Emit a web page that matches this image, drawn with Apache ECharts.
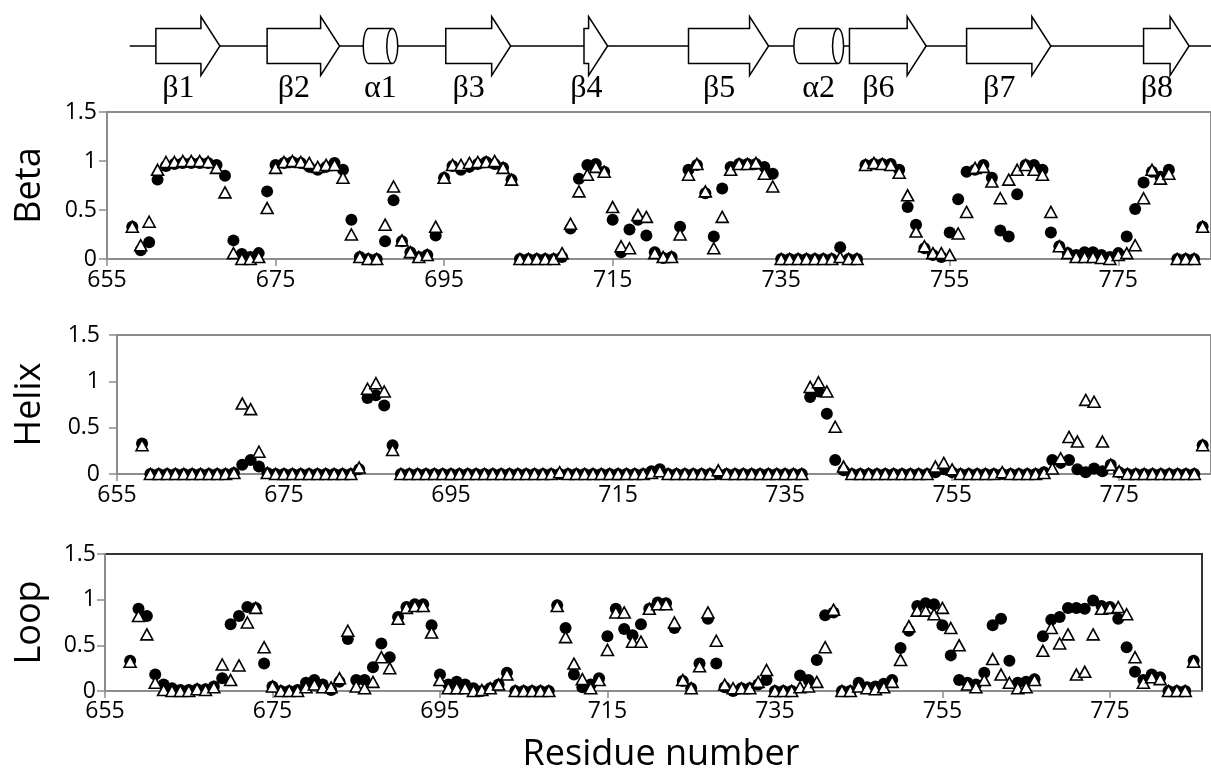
<!DOCTYPE html>
<html>
<head>
<meta charset="utf-8">
<title>Secondary structure per residue</title>
<script src="https://cdn.jsdelivr.net/npm/echarts@6/dist/echarts.min.js"></script>
<style>
  html, body {margin: 0; padding: 0; background: #fff;}
  #chart {width: 1211px; height: 774px;}
</style>
</head>
<body>
<div id="chart"></div>
<script>
// residues run from 658 to 785, one value per residue
const firstResidue = 658
const xTicks = [655, 675, 695, 715, 735, 755, 775]

// secondary structure elements above the plots (residue numbers, strand end = arrow tip)
const elementNames = ['β1', 'β2', 'α1', 'β3', 'β4', 'β5', 'α2', 'β6', 'β7', 'β8']
const elementKinds = ['strand', 'strand', 'helix', 'strand', 'strand', 'strand', 'helix', 'strand', 'strand', 'strand']
const elementStart = [660.8, 674.0, 685.4, 695.2, 711.6, 724.0, 736.5, 743.1, 757.0, 778.0]
const elementEnd = [668.4, 682.6, 689.5, 702.9, 714.4, 733.5, 742.4, 752.2, 767.0, 783.4]
const backbone = [657.7, 786]

// filled circles
const betaCircle = [
  0.33, 0.09, 0.17, 0.81, 0.95, 0.97, 0.98, 0.98, 0.98, 0.98,
  0.96, 0.85, 0.19, 0.05, 0.02, 0.06, 0.69, 0.96, 0.98, 0.99,
  0.98, 0.94, 0.91, 0.94, 0.98, 0.91, 0.40, 0.02, 0, 0,
  0.18, 0.60, 0.18, 0.07, 0.02, 0.04, 0.24, 0.83, 0.95, 0.91,
  0.94, 0.97, 0.99, 0.97, 0.93, 0.81, 0, 0, 0, 0,
  0, 0.02, 0.31, 0.82, 0.96, 0.97, 0.89, 0.40, 0.07, 0.30,
  0.40, 0.24, 0.07, 0.01, 0.02, 0.33, 0.91, 0.96, 0.67, 0.23,
  0.72, 0.94, 0.97, 0.97, 0.97, 0.94, 0.87, 0, 0, 0,
  0, 0, 0, 0, 0.12, 0, 0, 0.96, 0.97, 0.97,
  0.97, 0.91, 0.53, 0.35, 0.11, 0.04, 0.02, 0.27, 0.61, 0.89,
  0.91, 0.96, 0.83, 0.29, 0.23, 0.66, 0.96, 0.96, 0.91, 0.27,
  0.13, 0.06, 0.04, 0.07, 0.07, 0.04, 0.02, 0.06, 0.23, 0.51,
  0.78, 0.89, 0.84, 0.91, 0, 0, 0, 0.33,
]
const helixCircle = [
  0.33, 0, 0, 0, 0, 0, 0, 0, 0, 0,
  0, 0.01, 0.10, 0.15, 0.08, 0.01, 0, 0, 0, 0,
  0, 0, 0, 0, 0, 0, 0.05, 0.82, 0.85, 0.74,
  0.31, 0, 0, 0, 0, 0, 0, 0, 0, 0,
  0, 0, 0, 0, 0, 0, 0, 0, 0, 0,
  0, 0, 0, 0, 0, 0, 0, 0, 0, 0,
  0, 0.03, 0.05, 0, 0, 0, 0, 0, 0, 0,
  0, 0, 0, 0, 0, 0, 0, 0, 0, 0,
  0.83, 0.89, 0.65, 0.15, 0.04, 0, 0, 0, 0, 0,
  0, 0, 0, 0, 0, 0.02, 0.05, 0.02, 0, 0,
  0, 0, 0, 0, 0, 0, 0, 0, 0.02, 0.15,
  0.12, 0.15, 0.05, 0.02, 0.06, 0.03, 0.10, 0.02, 0, 0,
  0, 0, 0, 0, 0, 0, 0, 0.31,
]
const loopCircle = [
  0.33, 0.90, 0.82, 0.18, 0.07, 0.03, 0.01, 0.01, 0.02, 0.02,
  0.05, 0.14, 0.73, 0.82, 0.92, 0.91, 0.30, 0.05, 0, 0,
  0.01, 0.09, 0.12, 0.07, 0.01, 0.10, 0.57, 0.12, 0.12, 0.26,
  0.52, 0.37, 0.81, 0.92, 0.95, 0.95, 0.72, 0.18, 0.07, 0.10,
  0.07, 0.03, 0, 0.03, 0.07, 0.20, 0, 0, 0, 0,
  0, 0.94, 0.69, 0.18, 0.04, 0.07, 0.14, 0.60, 0.90, 0.68,
  0.61, 0.73, 0.90, 0.97, 0.96, 0.69, 0.11, 0.03, 0.30, 0.79,
  0.30, 0.04, 0, 0.03, 0.03, 0.07, 0.12, 0, 0, 0,
  0.17, 0.12, 0.34, 0.83, 0.86, 0, 0, 0.09, 0.04, 0.05,
  0.08, 0.12, 0.47, 0.66, 0.93, 0.96, 0.95, 0.72, 0.39, 0.12,
  0.09, 0.07, 0.20, 0.72, 0.79, 0.33, 0.09, 0.10, 0.13, 0.60,
  0.78, 0.81, 0.91, 0.91, 0.90, 0.99, 0.93, 0.92, 0.79, 0.48,
  0.21, 0.12, 0.18, 0.15, 0, 0, 0, 0.33,
]

// open triangles
const betaTriangle = [
  0.33, 0.14, 0.38, 0.91, 0.99, 0.99, 1.0, 1.0, 1.0, 0.99,
  0.93, 0.68, 0.06, 0, 0, 0.02, 0.52, 0.93, 0.99, 1.0,
  0.99, 0.98, 0.94, 0.96, 0.96, 0.83, 0.25, 0.02, 0, 0,
  0.35, 0.74, 0.19, 0.07, 0.02, 0.04, 0.33, 0.83, 0.96, 0.96,
  0.98, 0.99, 0.99, 1.0, 0.93, 0.81, 0, 0, 0, 0,
  0, 0.06, 0.36, 0.69, 0.86, 0.94, 0.89, 0.53, 0.13, 0.11,
  0.45, 0.43, 0.06, 0.02, 0.02, 0.25, 0.86, 0.97, 0.69, 0.11,
  0.43, 0.91, 0.97, 0.97, 0.98, 0.87, 0.74, 0, 0, 0,
  0, 0, 0, 0, 0.02, 0, 0, 0.96, 0.98, 0.97,
  0.96, 0.88, 0.65, 0.28, 0.13, 0.06, 0.06, 0.04, 0.26, 0.48,
  0.93, 0.94, 0.79, 0.62, 0.81, 0.91, 0.96, 0.91, 0.86, 0.48,
  0.13, 0.06, 0.02, 0.02, 0.02, 0.01, 0, 0.04, 0.06, 0.14,
  0.62, 0.91, 0.82, 0.87, 0, 0, 0, 0.33,
]
const helixTriangle = [
  0.31, 0, 0, 0, 0, 0, 0, 0, 0, 0,
  0, 0.01, 0.76, 0.70, 0.24, 0.01, 0, 0, 0, 0,
  0, 0, 0, 0, 0, 0, 0.07, 0.92, 0.98, 0.89,
  0.26, 0, 0, 0, 0, 0, 0, 0, 0, 0,
  0, 0, 0, 0, 0, 0, 0, 0, 0, 0,
  0.02, 0, 0, 0, 0, 0, 0, 0, 0, 0,
  0, 0.01, 0.03, 0, 0, 0, 0, 0, 0, 0.04,
  0, 0, 0, 0, 0, 0, 0, 0, 0, 0,
  0.94, 0.99, 0.89, 0.51, 0.08, 0, 0, 0, 0, 0,
  0, 0, 0, 0, 0, 0.08, 0.12, 0.05, 0, 0,
  0, 0, 0, 0.02, 0, 0, 0, 0, 0.01, 0.06,
  0.17, 0.40, 0.35, 0.80, 0.78, 0.35, 0.10, 0.03, 0, 0,
  0, 0, 0, 0, 0, 0, 0, 0.31,
]
const loopTriangle = [
  0.32, 0.82, 0.62, 0.09, 0.01, 0, 0, 0, 0.02, 0.01,
  0.04, 0.29, 0.12, 0.28, 0.75, 0.91, 0.48, 0.05, 0, 0,
  0, 0.04, 0.07, 0.04, 0.04, 0.14, 0.66, 0.05, 0.03, 0.10,
  0.37, 0.25, 0.79, 0.91, 0.93, 0.93, 0.64, 0.12, 0.03, 0.03,
  0.03, 0, 0.01, 0.03, 0.07, 0.18, 0, 0, 0, 0,
  0, 0.93, 0.59, 0.30, 0.13, 0.03, 0.12, 0.45, 0.86, 0.86,
  0.54, 0.54, 0.90, 0.95, 0.95, 0.75, 0.12, 0.03, 0.27, 0.86,
  0.55, 0.07, 0.03, 0.03, 0.03, 0.10, 0.23, 0, 0, 0,
  0.04, 0.05, 0.10, 0.48, 0.89, 0, 0, 0.05, 0.03, 0.02,
  0.04, 0.10, 0.34, 0.71, 0.88, 0.88, 0.84, 0.91, 0.69, 0.50,
  0.07, 0.04, 0.12, 0.35, 0.18, 0.09, 0.03, 0.04, 0.12, 0.44,
  0.69, 0.52, 0.62, 0.18, 0.21, 0.62, 0.90, 0.91, 0.92, 0.84,
  0.37, 0.09, 0.15, 0.13, 0, 0, 0, 0.32,
]

const axisGray = '#8c8c8c'
const font = 'Open Sans'
const headLen = 19

const toPoints = values => values.map((v, i) => [firstResidue + i, v])

function residueAxis(gridIndex, margin, extra) {
  return Object.assign({
    type: 'value',
    gridIndex,
    min: 655,
    max: 786,
    axisLine: {show: true, onZero: false, lineStyle: {color: axisGray, width: 2}},
    axisTick: {show: true, length: 7, customValues: xTicks, lineStyle: {color: axisGray, width: 1.5}},
    axisLabel: {customValues: xTicks, margin, color: '#000', fontSize: 23, fontFamily: font},
    splitLine: {show: false},
  }, extra)
}

function fractionAxis(gridIndex, name, nameGap, margin) {
  return {
    type: 'value',
    gridIndex,
    min: 0,
    max: 1.5,
    interval: 0.5,
    name,
    nameLocation: 'middle',
    nameGap,
    nameTextStyle: {color: '#000', fontSize: 36, fontFamily: font},
    axisLine: {show: true, lineStyle: {color: axisGray, width: 2}},
    axisTick: {show: true, length: 8, lineStyle: {color: axisGray, width: 1.5}},
    axisLabel: {margin, color: '#000', fontSize: 23, fontFamily: font},
    splitLine: {show: false},
  }
}

function renderElement(params, api) {
  const i = params.dataIndex
  const p0 = api.coord([api.value(0), 0.5])
  const p1 = api.coord([api.value(1), 0.5])
  const cy = p0[1]
  const x0 = p0[0]
  const x1 = p1[0]
  const outline = {fill: '#fff', stroke: '#000', lineWidth: 1.5}
  let shapes
  let labelX
  if (elementKinds[i] === 'strand') {
    const hb = Math.max(x0, x1 - headLen)
    shapes = [{
      type: 'polygon',
      shape: {points: [
        [x0, cy - 17.5], [hb, cy - 17.5], [hb, cy - 29.5], [x1, cy],
        [hb, cy + 29.5], [hb, cy + 17.5], [x0, cy + 17.5],
      ]},
      style: outline,
    }]
    labelX = (x0 + hb) / 2
  } else {
    const rx = 5.5
    const top = cy - 17.5
    const bot = cy + 17.5
    const ry = 17.5
    const a = x0 + rx
    const b = x1 - rx
    shapes = [{
      type: 'path',
      shape: {pathData: `M${a} ${top} L${b} ${top} A${rx} ${ry} 0 0 1 ${b} ${bot} L${a} ${bot} A${rx} ${ry} 0 0 1 ${a} ${top} Z`},
      style: outline,
    }, {
      type: 'path',
      shape: {pathData: `M${b} ${top} A${rx} ${ry} 0 0 0 ${b} ${bot}`},
      style: {fill: 'none', stroke: '#000', lineWidth: 1.5},
    }]
    labelX = (x0 + x1) / 2
  }
  shapes.push({
    type: 'text',
    style: {
      text: elementNames[i],
      x: labelX,
      y: cy + 43,
      align: 'center',
      verticalAlign: 'middle',
      fontSize: 32,
      fontFamily: 'Liberation Serif',
      fill: '#000',
    },
  })
  return {type: 'group', children: shapes}
}

function circles(values, axisIndex) {
  return {
    type: 'scatter',
    xAxisIndex: axisIndex,
    yAxisIndex: axisIndex,
    data: toPoints(values),
    symbol: 'circle',
    symbolSize: 12,
    itemStyle: {color: '#000', opacity: 1},
    silent: true,
  }
}

function triangles(values, axisIndex) {
  return {
    type: 'scatter',
    xAxisIndex: axisIndex,
    yAxisIndex: axisIndex,
    data: toPoints(values),
    symbol: 'triangle',
    symbolSize: [12, 11],
    itemStyle: {color: '#fff', borderColor: '#000', borderWidth: 1.6, opacity: 1},
    silent: true,
  }
}

const chart = echarts.init(document.getElementById('chart'))

chart.setOption({
  animation: false,
  backgroundColor: '#fff',
  grid: [
    {left: 107, top: 0, width: 1107, height: 92},
    {left: 107, top: 112, width: 1107, height: 147, show: true, borderColor: axisGray, borderWidth: 2},
    {left: 117, top: 335, width: 1097, height: 139, show: true, borderColor: axisGray, borderWidth: 2},
    {left: 105, top: 554, width: 1097, height: 139, show: true, borderColor: '#333', borderWidth: 2},
  ],
  xAxis: [
    {type: 'value', gridIndex: 0, min: 655, max: 786, show: false},
    residueAxis(1, 10),
    residueAxis(2, 10),
    residueAxis(3, 9, {
      name: 'Residue number',
      nameLocation: 'middle',
      nameGap: 46,
      nameTextStyle: {color: '#000', fontSize: 36, fontFamily: font, padding: [0, 0, 0, 15]},
    }),
  ],
  yAxis: [
    {type: 'value', gridIndex: 0, min: 0, max: 1, show: false},
    fractionAxis(1, 'Beta', 59, 10),
    fractionAxis(2, 'Helix', 69, 17),
    fractionAxis(3, 'Loop', 57, 9),
  ],
  series: [
    {
      type: 'line',
      xAxisIndex: 0,
      yAxisIndex: 0,
      data: backbone.map(r => [r, 0.5]),
      symbol: 'none',
      lineStyle: {color: '#000', width: 1.5},
      silent: true,
      z: 1,
    },
    {
      type: 'custom',
      xAxisIndex: 0,
      yAxisIndex: 0,
      data: elementStart.map((s, i) => [s, elementEnd[i]]),
      renderItem: renderElement,
      clip: false,
      silent: true,
      z: 2,
    },
    circles(betaCircle, 1),
    triangles(betaTriangle, 1),
    circles(helixCircle, 2),
    triangles(helixTriangle, 2),
    circles(loopCircle, 3),
    triangles(loopTriangle, 3),
  ],
})
</script>
</body>
</html>
